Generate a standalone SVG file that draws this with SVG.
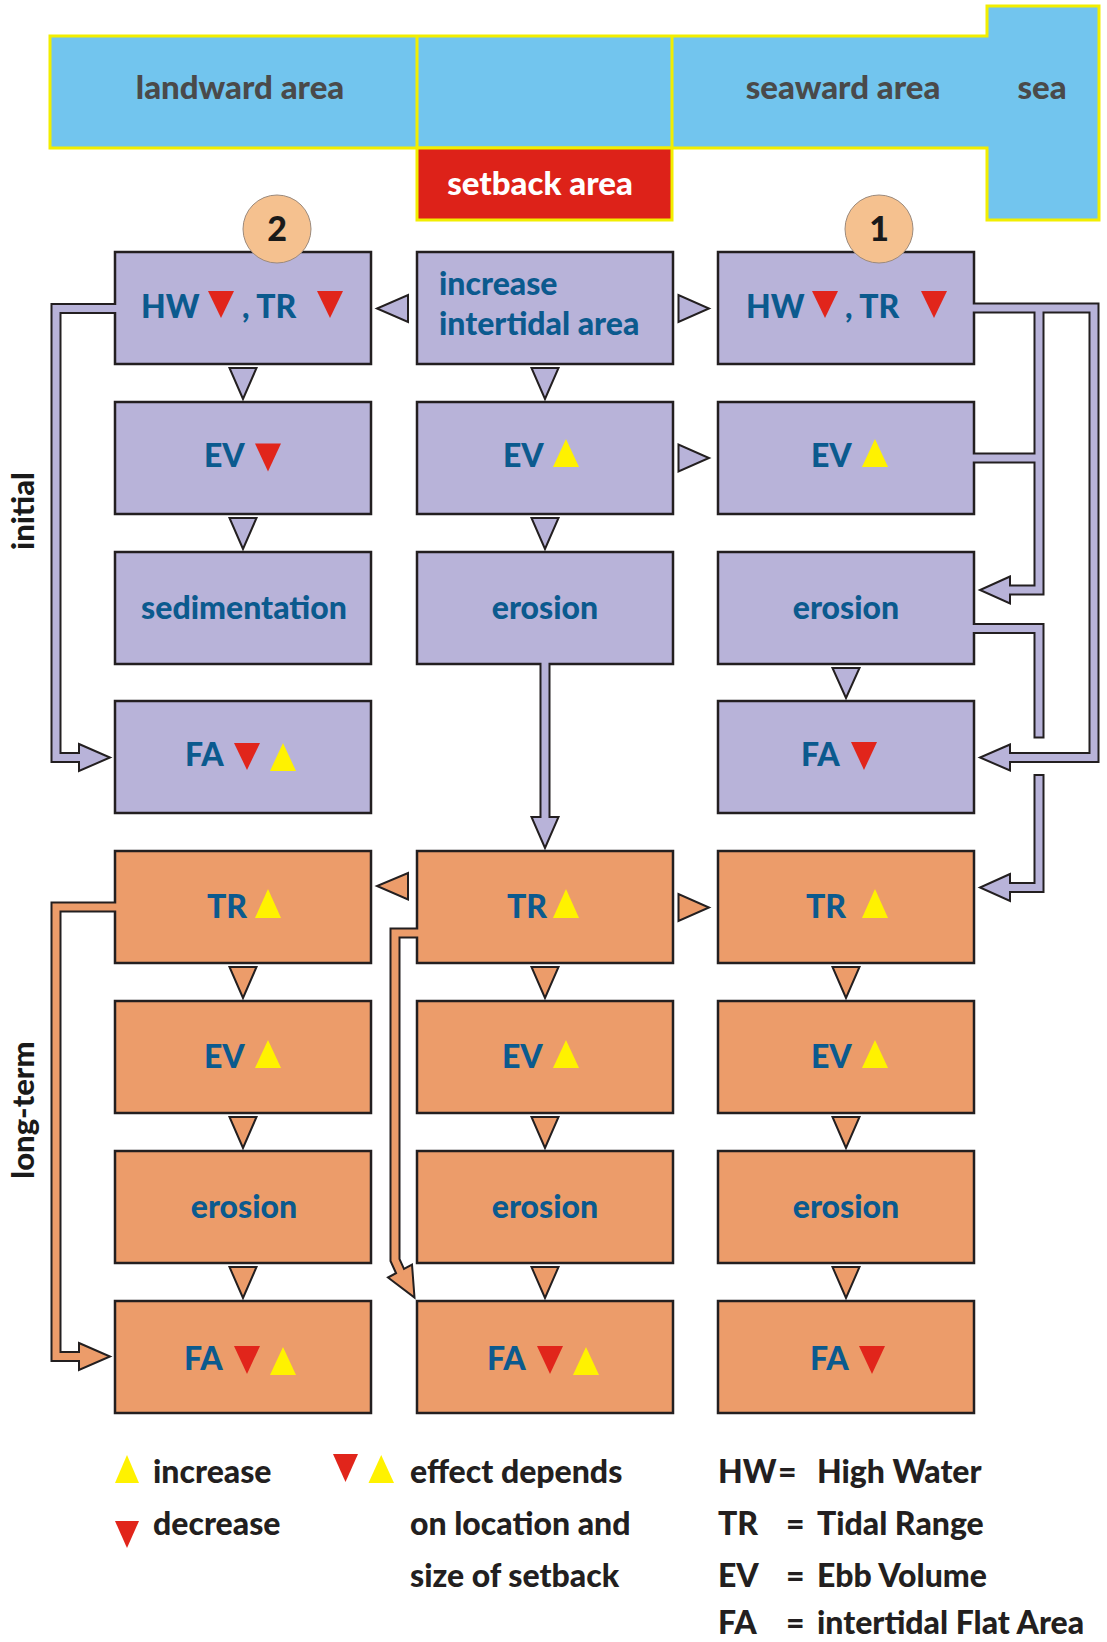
<svg xmlns="http://www.w3.org/2000/svg" width="1107" height="1642" viewBox="0 0 1107 1642">
<style>
.band{fill:#72c5ee;stroke:#f2ee00;stroke-width:3}
.div{stroke:#f2ee00;stroke-width:3}
.setb{fill:#dd2219;stroke:#f2ee00;stroke-width:3}
.lbl{font-family:Lato,"Liberation Sans",sans-serif;font-weight:900;font-size:33px;fill:#4a4a4a}
.wlbl{font-family:Lato,"Liberation Sans",sans-serif;font-weight:900;font-size:33px;fill:#ffffff}
.bp{fill:#b8b3d9;stroke:#231f20;stroke-width:2.5}
.bo{fill:#ec9c6a;stroke:#231f20;stroke-width:2.5}
.t{font-family:Lato,"Liberation Sans",sans-serif;font-weight:900;font-size:32px;fill:#0b5a8e}
.c{text-anchor:middle}
.up{fill:#fff200}
.dn{fill:#e1251b}
.tk{fill:none;stroke:#231f20;stroke-width:11}
.lp{fill:none;stroke:#b8b3d9;stroke-width:7}
.lo{fill:none;stroke:#ec9c6a;stroke-width:7}
.ap{fill:#b8b3d9;stroke:#231f20;stroke-width:2}
.ao{fill:#ec9c6a;stroke:#231f20;stroke-width:2}
.circ{fill:#f5c18f;stroke:#9c8a7c;stroke-width:1}
.num{font-family:Lato,"Liberation Sans",sans-serif;font-weight:900;font-size:34px;fill:#1a1a1a;text-anchor:middle}
.side{font-family:Lato,"Liberation Sans",sans-serif;font-weight:900;font-size:31px;fill:#1a1a1a;text-anchor:middle}
.lg{font-family:Lato,"Liberation Sans",sans-serif;font-weight:900;font-size:32px;fill:#231f20}
</style>

<g id="areas">
  <polygon class="band" points="50,36 987,36 987,6 1099,6 1099,220 987,220 987,148 50,148"/>
  <line class="div" x1="417" y1="36" x2="417" y2="148"/>
  <line class="div" x1="672" y1="36" x2="672" y2="148"/>
  <rect class="setb" x="417" y="148" width="255" height="72"/>
  <text class="lbl c" x="240" y="99">landward area</text>
  <text class="lbl c" x="843" y="99">seaward area</text>
  <text class="lbl c" x="1042" y="99">sea</text>
  <text class="wlbl c" x="540" y="195">setback area</text>
</g>

<g id="phase-labels">
  <text class="side" transform="translate(34,511) rotate(-90)">initial</text>
  <text class="side" transform="translate(34,1110) rotate(-90)">long-term</text>
</g>

<!-- initial phase nodes -->
<g id="n-hw-land">
  <rect class="bp" x="115" y="252" width="256" height="112"/>
  <text class="t" x="141" y="318">HW</text>
  <polygon class="dn" points="208,291 234,291 221,318"/>
  <text class="t" x="242" y="318">, TR</text>
  <polygon class="dn" points="317,291 343,291 330,318"/>
</g>
<g id="n-increase">
  <rect class="bp" x="417" y="252" width="256" height="112"/>
  <text class="t" x="439" y="295">increase</text>
  <text class="t" x="439" y="335">intertidal area</text>
</g>
<g id="n-hw-sea">
  <rect class="bp" x="718" y="252" width="256" height="112"/>
  <text class="t" x="746" y="318">HW</text>
  <polygon class="dn" points="812,291 838,291 825,318"/>
  <text class="t" x="845" y="318">, TR</text>
  <polygon class="dn" points="921,291 947,291 934,318"/>
</g>
<g id="n-ev-land">
  <rect class="bp" x="115" y="402" width="256" height="112"/>
  <text class="t" x="204" y="467">EV</text>
  <polygon class="dn" points="255,443.5 281,443.5 268,471.5"/>
</g>
<g id="n-ev-set">
  <rect class="bp" x="417" y="402" width="256" height="112"/>
  <text class="t" x="503" y="467">EV</text>
  <polygon class="up" points="553,467 579,467 566,439"/>
</g>
<g id="n-ev-sea">
  <rect class="bp" x="718" y="402" width="256" height="112"/>
  <text class="t" x="811" y="467">EV</text>
  <polygon class="up" points="862,467 888,467 875,439"/>
</g>
<g id="n-sed-land">
  <rect class="bp" x="115" y="552" width="256" height="112"/>
  <text class="t c" x="244" y="619">sedimentation</text>
</g>
<g id="n-ero-set">
  <rect class="bp" x="417" y="552" width="256" height="112"/>
  <text class="t c" x="545" y="619">erosion</text>
</g>
<g id="n-ero-sea">
  <rect class="bp" x="718" y="552" width="256" height="112"/>
  <text class="t c" x="846" y="619">erosion</text>
</g>
<g id="n-fa-land">
  <rect class="bp" x="115" y="701" width="256" height="112"/>
  <text class="t" x="185" y="766">FA</text>
  <polygon class="dn" points="234,743 260,743 247,770"/>
  <polygon class="up" points="270,771 296,771 283,743"/>
</g>
<g id="n-fa-sea">
  <rect class="bp" x="718" y="701" width="256" height="112"/>
  <text class="t" x="801" y="766">FA</text>
  <polygon class="dn" points="851,742 877,742 864,770"/>
</g>

<!-- long-term phase nodes -->
<g id="n-tr-land">
  <rect class="bo" x="115" y="851" width="256" height="112"/>
  <text class="t" x="207" y="918">TR</text>
  <polygon class="up" points="255,918 281,918 268,889"/>
</g>
<g id="n-tr-set">
  <rect class="bo" x="417" y="851" width="256" height="112"/>
  <text class="t" x="507" y="918">TR</text>
  <polygon class="up" points="553,918 579,918 566,889"/>
</g>
<g id="n-tr-sea">
  <rect class="bo" x="718" y="851" width="256" height="112"/>
  <text class="t" x="806" y="918">TR</text>
  <polygon class="up" points="862,918 888,918 875,889"/>
</g>
<g id="n-ev2-land">
  <rect class="bo" x="115" y="1001" width="256" height="112"/>
  <text class="t" x="204" y="1068">EV</text>
  <polygon class="up" points="255,1068 281,1068 268,1040"/>
</g>
<g id="n-ev2-set">
  <rect class="bo" x="417" y="1001" width="256" height="112"/>
  <text class="t" x="502" y="1068">EV</text>
  <polygon class="up" points="553,1068 579,1068 566,1040"/>
</g>
<g id="n-ev2-sea">
  <rect class="bo" x="718" y="1001" width="256" height="112"/>
  <text class="t" x="811" y="1068">EV</text>
  <polygon class="up" points="862,1068 888,1068 875,1040"/>
</g>
<g id="n-ero2-land">
  <rect class="bo" x="115" y="1151" width="256" height="112"/>
  <text class="t c" x="244" y="1218">erosion</text>
</g>
<g id="n-ero2-set">
  <rect class="bo" x="417" y="1151" width="256" height="112"/>
  <text class="t c" x="545" y="1218">erosion</text>
</g>
<g id="n-ero2-sea">
  <rect class="bo" x="718" y="1151" width="256" height="112"/>
  <text class="t c" x="846" y="1218">erosion</text>
</g>
<g id="n-fa2-land">
  <rect class="bo" x="115" y="1301" width="256" height="112"/>
  <text class="t" x="184" y="1370">FA</text>
  <polygon class="dn" points="234,1346 260,1346 247,1374"/>
  <polygon class="up" points="270,1375 296,1375 283,1347"/>
</g>
<g id="n-fa2-set">
  <rect class="bo" x="417" y="1301" width="256" height="112"/>
  <text class="t" x="487" y="1370">FA</text>
  <polygon class="dn" points="537,1346 563,1346 550,1374"/>
  <polygon class="up" points="573,1375 599,1375 586,1347"/>
</g>
<g id="n-fa2-sea">
  <rect class="bo" x="718" y="1301" width="256" height="112"/>
  <text class="t" x="810" y="1370">FA</text>
  <polygon class="dn" points="859,1346 885,1346 872,1374"/>
</g>

<g id="connectors">
  <!-- small triangles -->
  <polygon class="ap" points="229.5,368 256.5,368 243,399"/>
  <polygon class="ap" points="229.5,518 256.5,518 243,549"/>
  <polygon class="ap" points="531.5,368 558.5,368 545,399"/>
  <polygon class="ap" points="531.5,518 558.5,518 545,549"/>
  <polygon class="ap" points="832.5,668 859.5,668 846,698"/>
  <polygon class="ap" points="408,295 408,322 377,308.5"/>
  <polygon class="ap" points="678.5,295 678.5,322 709,308.5"/>
  <polygon class="ap" points="678.5,444.5 678.5,471.5 709,458"/>
  <polygon class="ao" points="229.5,967 256.5,967 243,998"/>
  <polygon class="ao" points="229.5,1117 256.5,1117 243,1148"/>
  <polygon class="ao" points="229.5,1267 256.5,1267 243,1298"/>
  <polygon class="ao" points="531.5,967 558.5,967 545,998"/>
  <polygon class="ao" points="531.5,1117 558.5,1117 545,1148"/>
  <polygon class="ao" points="531.5,1267 558.5,1267 545,1298"/>
  <polygon class="ao" points="832.5,967 859.5,967 846,998"/>
  <polygon class="ao" points="832.5,1117 859.5,1117 846,1148"/>
  <polygon class="ao" points="832.5,1267 859.5,1267 846,1298"/>
  <polygon class="ao" points="408,873 408,899.5 377,886"/>
  <polygon class="ao" points="678.5,894 678.5,921 709,907.5"/>

  <!-- tube outlines -->
  <path class="tk" d="M115 308.5H56V757.5H80"/>
  <path class="tk" d="M974 308H1094V757.5H1009"/>
  <path class="tk" d="M1039 308V590H1009"/>
  <path class="tk" d="M974 458H1039"/>
  <path class="tk" d="M974 628.5H1039V738.5"/>
  <path class="tk" d="M1039 774V887.5H1009"/>
  <path class="tk" d="M545 664V819"/>
  <path class="tk" d="M115 907H56V1356.5H80"/>
  <path class="tk" d="M417 933H395V1260L400 1271"/>

  <!-- tube arrowheads -->
  <polygon class="ap" points="79,744 110,757.5 79,771"/>
  <polygon class="ap" points="1010,744.5 980,757.5 1010,770.5"/>
  <polygon class="ap" points="1010,576.5 980,590 1010,603.5"/>
  <polygon class="ap" points="1010,874 980,887.5 1010,901"/>
  <polygon class="ap" points="531.5,817 558.5,817 545,848"/>
  <polygon class="ao" points="79,1343 110,1356.5 79,1370"/>
  <polygon class="ao" points="388,1277.5 414.5,1297.5 412,1264.5"/>

  <!-- tube fills -->
  <path class="lp" d="M118 308.5H56V757.5H82"/>
  <path class="lp" d="M971 308H1094V757.5H1007"/>
  <path class="lp" d="M1039 308V590H1007"/>
  <path class="lp" d="M971 458H1039"/>
  <path class="lp" d="M971 628.5H1039V736.5"/>
  <path class="lp" d="M1039 776V887.5H1007"/>
  <path class="lp" d="M545 661V821"/>
  <path class="lo" d="M118 907H56V1356.5H82"/>
  <path class="lo" d="M420 933H395V1260L401.2 1273.5"/>
</g>

<g id="marker-2">
  <circle class="circ" cx="277" cy="229" r="34"/>
  <text class="num" x="277" y="241">2</text>
</g>
<g id="marker-1">
  <circle class="circ" cx="879" cy="229" r="34"/>
  <text class="num" x="879" y="241">1</text>
</g>

<g id="legend">
  <polygon class="up" points="115,1483 139,1483 127,1455"/>
  <text class="lg" x="153" y="1483">increase</text>
  <polygon class="dn" points="115,1521 139,1521 127,1548"/>
  <text class="lg" x="153" y="1535">decrease</text>
  <polygon class="dn" points="333,1454 358,1454 345.5,1482"/>
  <polygon class="up" points="368.5,1483 394,1483 381.2,1455"/>
  <text class="lg" x="410" y="1483">effect depends</text>
  <text class="lg" x="410" y="1535">on location and</text>
  <text class="lg" x="410" y="1587">size of setback</text>
  <text class="lg" x="718" y="1483">HW</text>
  <text class="lg" x="778" y="1483">=</text>
  <text class="lg" x="817" y="1483">High Water</text>
  <text class="lg" x="718" y="1535">TR</text>
  <text class="lg" x="786" y="1535">=</text>
  <text class="lg" x="817" y="1535">Tidal Range</text>
  <text class="lg" x="718" y="1587">EV</text>
  <text class="lg" x="786" y="1587">=</text>
  <text class="lg" x="817" y="1587">Ebb Volume</text>
  <text class="lg" x="718" y="1634">FA</text>
  <text class="lg" x="786" y="1634">=</text>
  <text class="lg" x="817" y="1634">intertidal Flat Area</text>
</g>
</svg>
